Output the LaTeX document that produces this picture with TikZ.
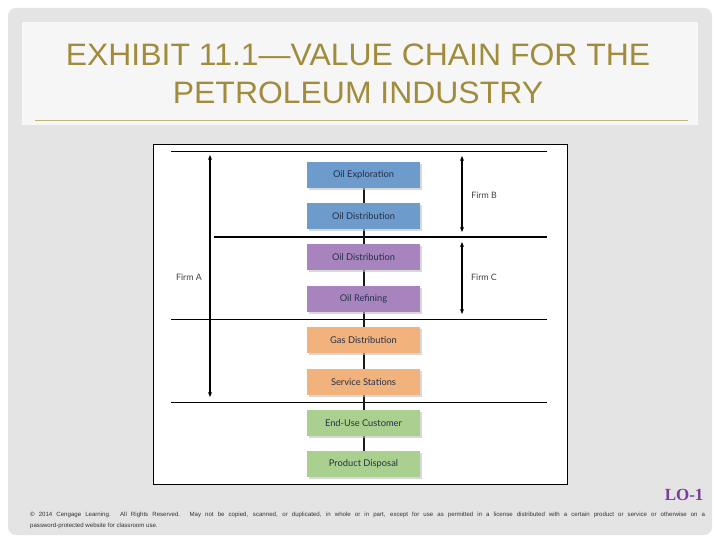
\documentclass[tikz,border=0pt]{standalone}
\usepackage{fontspec}
\setmainfont{Liberation Sans}
\newfontfamily\boxfont{Lato}
\newfontfamily\lofont{Liberation Serif}
\usetikzlibrary{shadows,arrows.meta}
\definecolor{panelgrey}{HTML}{E4E4E4}
\definecolor{titlebg}{HTML}{F6F6F6}
\definecolor{gold}{HTML}{A08C3C}
\definecolor{goldline}{HTML}{C2B27A}
\definecolor{cblue}{HTML}{6D9BCC}
\definecolor{cpurple}{HTML}{A884BE}
\definecolor{corange}{HTML}{F2B27C}
\definecolor{cgreen}{HTML}{A9D08E}
\definecolor{navy}{HTML}{26304A}
\definecolor{lopurple}{HTML}{7A3E98}
\tikzset{
  stagebox/.style={minimum width=113pt, minimum height=26pt, inner sep=0pt,
    font=\boxfont\fontsize{9.3}{10}\selectfont, text=navy,
    drop shadow={shadow xshift=2pt, shadow yshift=-2pt, fill=black!25, opacity=0.6}},
  chainline/.style={line width=2pt, black!90},
  firmarrow/.style={line width=1.1pt, {Stealth[length=5pt,width=4pt]}-{Stealth[length=5pt,width=4pt]}},
  firmlabel/.style={font=\boxfont\fontsize{8.8}{10}\selectfont, text=black!75},
}
\begin{document}
\begin{tikzpicture}[x=1pt,y=-1pt]
\useasboundingbox (0,0) rectangle (720,540);
\fill[white] (0,0) rectangle (720,540);
\fill[panelgrey, rounded corners=8pt] (8,8) rectangle (712,535);
\fill[titlebg] (22,22) rectangle (698,125);
\draw[goldline, line width=0.8pt] (35,120) -- (688,120);
\node[text=gold, font=\fontsize{31}{38}\selectfont, align=center, xscale=1.03] (title) at (358,74)
  {EXHIBIT 11.1—VALUE CHAIN FOR THE\\PETROLEUM INDUSTRY};

\fill[white] (153,144) rectangle (567,484);
\draw[black, line width=0.8pt] (153,144) rectangle (567,484);

\draw[line width=0.6pt] (171,151) -- (547,151);
\draw[line width=1.2pt] (214,237) -- (547,237);
\draw[line width=0.6pt] (171,319) -- (547,319);
\draw[line width=0.6pt] (171,402) -- (547,402);

\coordinate (chaintop) at (363.5,175);
\coordinate (chainbot) at (363.5,464);
\draw[chainline] (chaintop) -- (chainbot);

\node[stagebox, fill=cblue] (b1) at (363.5,175) {Oil Exploration};
\node[stagebox, fill=cblue] (b2) at (363.5,216) {Oil Distribution};
\node[stagebox, fill=cpurple] (b3) at (363.5,257) {Oil Distribution};
\node[stagebox, fill=cpurple] (b4) at (363.5,299) {Oil Refining};
\node[stagebox, fill=corange] (b5) at (363.5,340) {Gas Distribution};
\node[stagebox, fill=corange] (b6) at (363.5,382) {Service Stations};
\node[stagebox, fill=cgreen] (b7) at (363.5,423) {End-Use Customer};
\node[stagebox, fill=cgreen] (b8) at (363.5,464) {Product Disposal};

\coordinate (aTop) at (210,155);
\coordinate (aBot) at (210,397);
\coordinate (bTop) at (462,156);
\coordinate (bBot) at (462,232);
\coordinate (cTop) at (462,242);
\coordinate (cBot) at (462,314);
\draw[firmarrow] (aTop) -- (aBot);
\draw[firmarrow] (bTop) -- (bBot);
\draw[firmarrow] (cTop) -- (cBot);
\node[firmlabel] (fa) at (189,277) {Firm A};
\node[firmlabel] (fb) at (484,195) {Firm B};
\node[firmlabel] (fc) at (484,277) {Firm C};

\node[text=lopurple, font=\lofont\bfseries\fontsize{17}{18}\selectfont, anchor=east] (lo) at (707,495) {LO-1};
\node[anchor=north west, align=left, inner sep=0pt, text=black!80, font=\fontsize{6.1}{11}\selectfont] (copy) at (30,512)
  {\makebox[675pt][s]{© 2014 Cengage Learning. All Rights Reserved. May not be copied, scanned, or duplicated, in whole or in part, except for use as permitted in a license distributed with a certain product or service or otherwise on a}\\
   password-protected website for classroom use.};
\end{tikzpicture}
\end{document}
